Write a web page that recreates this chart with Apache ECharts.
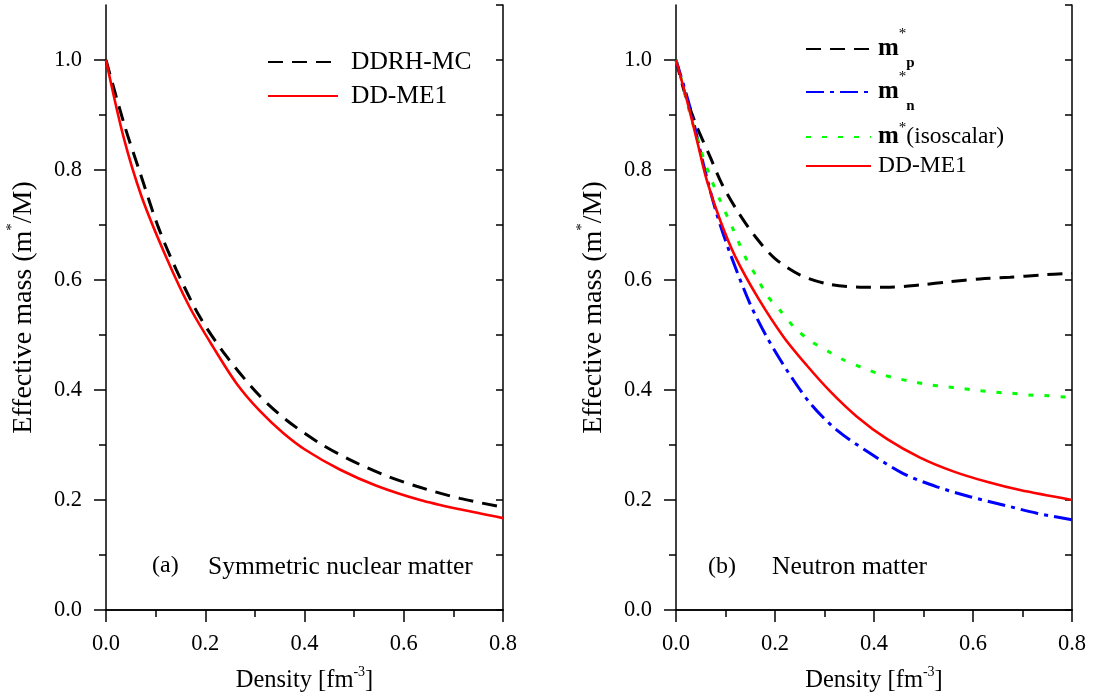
<!DOCTYPE html>
<html>
<head>
<meta charset="utf-8">
<script src="https://cdn.jsdelivr.net/npm/echarts@6/dist/echarts.min.js"></script>
<style>
html,body{margin:0;padding:0;background:#fff;}
#chart{width:1095px;height:695px;}
</style>
</head>
<body>
<div id="chart"></div>
<script>
// ---------- DATA ----------
// Panel (a): symmetric nuclear matter
const symDDRH_x = [0, 0.038, 0.069, 0.105, 0.142, 0.189, 0.243, 0.310, 0.364, 0.431, 0.492, 0.559, 0.626, 0.713, 0.8];
const symDDRH_y = [1.0, 0.879, 0.794, 0.697, 0.618, 0.533, 0.461, 0.389, 0.345, 0.303, 0.273, 0.246, 0.225, 0.203, 0.187];
const symME1_x = [0, 0.035, 0.072, 0.122, 0.169, 0.216, 0.263, 0.310, 0.357, 0.404, 0.472, 0.545, 0.633, 0.713, 0.8];
const symME1_y = [1.0, 0.861, 0.751, 0.640, 0.550, 0.478, 0.412, 0.362, 0.322, 0.290, 0.255, 0.226, 0.200, 0.183, 0.167];
// Panel (b): neutron matter
const mp_x = [0, 0.018, 0.042, 0.069, 0.092, 0.123, 0.160, 0.2, 0.251, 0.311, 0.372, 0.432, 0.493, 0.554, 0.614, 0.675, 0.735, 0.8];
const mp_y = [1.0, 0.939, 0.879, 0.824, 0.776, 0.727, 0.679, 0.639, 0.609, 0.592, 0.587, 0.587, 0.591, 0.597, 0.602, 0.605, 0.609, 0.612];
const mn_x = [0, 0.028, 0.055, 0.082, 0.109, 0.149, 0.183, 0.224, 0.271, 0.325, 0.392, 0.459, 0.527, 0.594, 0.661, 0.729, 0.8];
const mn_y = [1.0, 0.915, 0.812, 0.721, 0.649, 0.558, 0.497, 0.436, 0.376, 0.327, 0.285, 0.248, 0.224, 0.206, 0.191, 0.176, 0.164];
const iso_x = [0, 0.011, 0.028, 0.048, 0.069, 0.089, 0.116, 0.143, 0.163, 0.183, 0.210, 0.240, 0.274, 0.308, 0.338, 0.375, 0.409, 0.442, 0.473, 0.510, 0.543, 0.577, 0.611, 0.644, 0.678, 0.712, 0.745, 0.79];
const iso_y = [1.0, 0.964, 0.903, 0.842, 0.788, 0.745, 0.691, 0.636, 0.606, 0.573, 0.545, 0.513, 0.488, 0.470, 0.455, 0.441, 0.430, 0.422, 0.416, 0.410, 0.406, 0.403, 0.399, 0.396, 0.394, 0.391, 0.390, 0.387];
const neuME1_x = [0, 0.022, 0.042, 0.062, 0.089, 0.120, 0.166, 0.217, 0.264, 0.311, 0.365, 0.426, 0.493, 0.560, 0.628, 0.695, 0.8];
const neuME1_y = [1.0, 0.927, 0.855, 0.782, 0.709, 0.642, 0.567, 0.497, 0.445, 0.398, 0.352, 0.311, 0.277, 0.252, 0.233, 0.218, 0.200];
// Tick labels
const yMajorTicks = [0, 0.2, 0.4, 0.6, 0.8, 1.0];
const yMinorTicks = [0.1, 0.3, 0.5, 0.7, 0.9];

// ---------- CHART ----------
const FONT = 'Liberation Serif';
const zip = (xs, ys) => xs.map((x, i) => [x, ys[i]]);
const chart = echarts.init(document.getElementById('chart'), null, {renderer: 'canvas'});

const grids = [
  {left: 106, right: 592, top: 5, bottom: 85, outerBoundsMode: 'none', containLabel: false},
  {left: 676, right: 23, top: 5, bottom: 85, outerBoundsMode: 'none', containLabel: false}
];

const axisLine = {show: true, lineStyle: {color: '#000', width: 1.5}};
const fmt = v => v.toFixed(1);
const yName = '{n|Effective mass (m}{s|*}{n|/M)}';
const xName = '{n|Density [fm}{s|-3}{n|]}';
const yNameRich = {
  n: {fontFamily: FONT, fontSize: 28, color: '#000', lineHeight: 38},
  s: {fontFamily: FONT, fontSize: 15, color: '#000', verticalAlign: 'top', lineHeight: 15}
};
const xNameRich = {
  n: {fontFamily: FONT, fontSize: 24.5, color: '#000', lineHeight: 32},
  s: {fontFamily: FONT, fontSize: 14, color: '#000', verticalAlign: 'top', lineHeight: 14}
};

const xAxes = [], yAxes = [];
[0, 1].forEach(g => {
  xAxes.push({
    type: 'value', gridIndex: g, min: 0, max: 0.8, interval: 0.2, position: 'bottom',
    axisLine, splitLine: {show: false},
    axisTick: {show: true, length: 12, lineStyle: {color: '#000', width: 1.5}},
    minorTick: {show: true, splitNumber: 2, length: 7, lineStyle: {color: '#000', width: 1.5}},
    axisLabel: {formatter: fmt, fontFamily: FONT, fontSize: 22.5, color: '#000', margin: 23},
    name: xName, nameLocation: 'middle', nameGap: 55,
    nameTextStyle: {rich: xNameRich}
  });
  xAxes.push({
    type: 'value', gridIndex: g, min: 0, max: 0.8, interval: 0.1, position: 'top',
    axisLine, splitLine: {show: false},
    axisTick: {show: true, inside: true, length: 7, lineStyle: {color: '#000', width: 1.5}},
    axisLabel: {show: false}
  });
  yAxes.push({
    type: 'value', gridIndex: g, min: 0, max: 1.1, interval: 0.2, position: 'left',
    axisLine, splitLine: {show: false},
    axisTick: {show: true, length: 12, customValues: yMajorTicks, lineStyle: {color: '#000', width: 1.5}},
    axisLabel: {formatter: fmt, customValues: yMajorTicks, fontFamily: FONT, fontSize: 22.5, color: '#000', margin: 24},
    name: yName, nameLocation: 'middle', nameGap: 63,
    nameTextStyle: {rich: yNameRich}
  });
  yAxes.push({
    type: 'value', gridIndex: g, min: 0, max: 1.1, interval: 0.1, position: 'left',
    axisLine: {show: false}, splitLine: {show: false},
    axisTick: {show: true, length: 7, customValues: yMinorTicks, lineStyle: {color: '#000', width: 1.5}},
    axisLabel: {show: false}
  });
  yAxes.push({
    type: 'value', gridIndex: g, min: 0, max: 1.1, interval: 0.1, position: 'right',
    axisLine, splitLine: {show: false},
    axisTick: {show: true, inside: true, length: 7, lineStyle: {color: '#000', width: 1.5}},
    axisLabel: {show: false}
  });
});

function mkSeries(name, g, xs, ys, color, width, dash) {
  return {
    name, type: 'line', xAxisIndex: g * 2, yAxisIndex: g * 3,
    data: zip(xs, ys), smooth: 0.3, symbol: 'none', showSymbol: false,
    lineStyle: {color, width, type: dash || 'solid', cap: 'butt'},
    itemStyle: {color},
    silent: true, animation: false
  };
}

const series = [
  mkSeries('DDRH-MC', 0, symDDRH_x, symDDRH_y, '#000000', 3, [15, 9]),
  mkSeries('DD-ME1', 0, symME1_x, symME1_y, '#ff0000', 2.6),
  mkSeries('mp', 1, mp_x, mp_y, '#000000', 3, [15, 9]),
  mkSeries('mn', 1, mn_x, mn_y, '#0000ff', 3, [18, 6, 4, 6]),
  mkSeries('iso', 1, iso_x, iso_y, '#00ff00', 3, [5, 11]),
  mkSeries('DD-ME1 ', 1, neuME1_x, neuME1_y, '#ff0000', 2.6)
];

const legRichL = {
  n: {fontFamily: FONT, fontSize: 25.5, color: '#000'}
};
const legRichR = {
  n: {fontFamily: FONT, fontSize: 23.5, color: '#000'},
  b: {fontFamily: FONT, fontSize: 25, fontWeight: 'bold', color: '#000', lineHeight: 44},
  bi: {fontFamily: FONT, fontSize: 25, fontWeight: 'bold', color: '#000', lineHeight: 32},
  s: {fontFamily: FONT, fontSize: 15, color: '#000', verticalAlign: 'top', lineHeight: 15},
  sb: {fontFamily: FONT, fontSize: 15, fontWeight: 'bold', color: '#000', verticalAlign: 'bottom', lineHeight: 15}
};
const legendLabels = {
  'DDRH-MC': '{n|DDRH-MC}',
  'DD-ME1': '{n|DD-ME1}',
  'mp': '{b|m}{s|*}{sb|p}',
  'mn': '{b|m}{s|*}{sb|n}',
  'iso': '{bi|m}{s|*}{n|(isoscalar)}',
  'DD-ME1 ': '{n|DD-ME1}'
};
function mkLegend(names, left, top, width, gap, padLeft, rich) {
  return {
    data: names, orient: 'vertical', left, top, padding: 0, itemGap: gap,
    itemWidth: width, itemHeight: 14, selectedMode: false,
    itemStyle: {opacity: 0, borderWidth: 0},
    formatter: nm => legendLabels[nm],
    textStyle: {fontFamily: FONT, fontSize: 24, color: '#000', rich, padding: [0, 0, 0, padLeft]}
  };
}

const option = {
  backgroundColor: '#ffffff',
  animation: false,
  grid: grids,
  xAxis: xAxes,
  yAxis: yAxes,
  series,
  legend: [
    mkLegend(['DDRH-MC', 'DD-ME1'], 267, 49, 70, 8, 8, legRichL),
    mkLegend(['mp'], 805, 27, 65, 0, 2, legRichR),
    mkLegend(['mn'], 805, 70, 65, 0, 2, legRichR),
    mkLegend(['iso'], 805, 121, 65, 0, 2, legRichR),
    mkLegend(['DD-ME1 '], 805, 154, 65, 0, 2, legRichR)
  ],
  graphic: [
    {type: 'text', x: 152, y: 566, style: {text: '(a)', fontFamily: FONT, fontSize: 24, fill: '#000', verticalAlign: 'middle'}},
    {type: 'text', x: 208, y: 567, style: {text: 'Symmetric nuclear matter', fontFamily: FONT, fontSize: 25.5, fill: '#000', verticalAlign: 'middle'}},
    {type: 'text', x: 708, y: 567, style: {text: '(b)', fontFamily: FONT, fontSize: 24, fill: '#000', verticalAlign: 'middle'}},
    {type: 'text', x: 772, y: 567, style: {text: 'Neutron matter', fontFamily: FONT, fontSize: 25.5, fill: '#000', verticalAlign: 'middle'}}
  ]
};
chart.setOption(option);
</script>
</body>
</html>
